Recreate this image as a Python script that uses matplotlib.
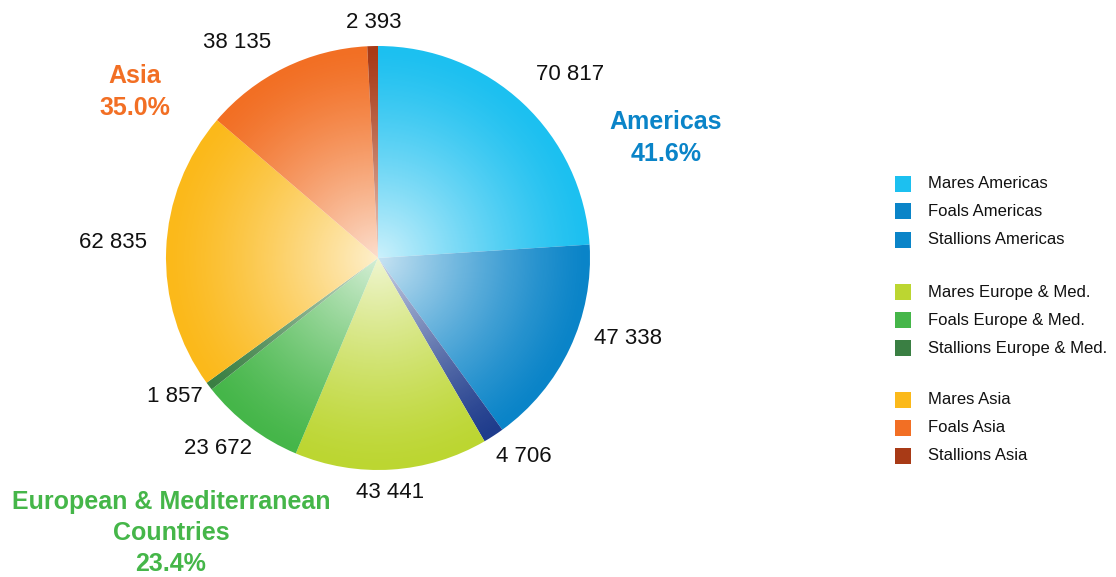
import numpy as np
import matplotlib
matplotlib.use("Agg")
import matplotlib.pyplot as plt
from matplotlib.patches import Circle, Rectangle

plt.rcParams['font.family'] = ['Liberation Sans', 'DejaVu Sans']

# data
series = ["Mares Americas", "Foals Americas", "Stallions Americas",
          "Mares Europe & Med.", "Foals Europe & Med.", "Stallions Europe & Med.",
          "Mares Asia", "Foals Asia", "Stallions Asia"]
values = [70817, 47338, 4706, 43441, 23672, 1857, 62835, 38135, 2393]
pie_colors = ["#1cc0f0", "#0a84c8", "#1f3c8c",
              "#bcd631", "#45b649", "#3a7f43",
              "#fbb91a", "#f26f24", "#a83a16"]
legend_colors = ["#1cc0f0", "#0a84c8", "#0a84c8",
                 "#bcd631", "#45b649", "#3a7f43",
                 "#fbb91a", "#f26f24", "#a83a16"]
value_labels = ["70 817", "47 338", "4 706", "43 441", "23 672",
                "1 857", "62 835", "38 135", "2 393"]
regions = ["Americas", "European & Mediterranean\nCountries", "Asia"]
region_colors = ["#0a84c8", "#45b649", "#f26f24"]

W, H = 1116, 577
fig = plt.figure(figsize=(W / 100, H / 100), dpi=100)
ax = fig.add_axes([0, 0, 1, 1])

cx, cy, R = 378, H - 258, 212
wedges, _ = ax.pie(values, colors=pie_colors, startangle=90, counterclock=False,
                   center=(cx, cy), radius=R, frame=True,
                   wedgeprops=dict(linewidth=0))
ax.set_xlim(0, W)
ax.set_ylim(0, H)
ax.set_aspect("equal")
ax.axis("off")

# light radial gradient towards the centre
n = 400
xs = np.linspace(-1, 1, n)
xx, yy = np.meshgrid(xs, xs)
rr = np.sqrt(xx ** 2 + yy ** 2)
alpha = np.clip(0.78 * (1 - rr) ** 1.3, 0, 1)
img = np.ones((n, n, 4))
img[..., 3] = alpha
im = ax.imshow(img, extent=[cx - R, cx + R, cy - R, cy + R], origin="lower",
               interpolation="bilinear", zorder=3)
clip = Circle((cx, cy), R, transform=ax.transData)
im.set_clip_path(clip)

# value labels (pixel positions from the reference)
label_pos = [(570, 75), (628, 338), (524, 457), (390, 492), (218, 448),
             (175, 397), (113, 243), (237, 43), (374, 23)]
for txt, (px, py) in zip(value_labels, label_pos):
    ax.text(px, H - py, txt, fontsize=16, ha="center", va="center", color="#111111")

# region totals
total = sum(values)
shares = [sum(values[0:3]) / total, sum(values[3:6]) / total, sum(values[6:9]) / total]
region_pos = [(666, 138), (171, 533), (135, 92)]
for name, share, col, (px, py) in zip(regions, shares, region_colors, region_pos):
    ax.text(px, H - py, f"{name}\n{share * 100:.1f}%", fontsize=18, fontweight="bold",
            ha="center", va="center", color=col, linespacing=1.38)

# legend
leg_y = [184, 211, 240, 292, 320, 348, 400, 428, 456]
for name, col, py in zip(series, legend_colors, leg_y):
    ax.add_patch(Rectangle((895, H - py - 8), 16, 16, facecolor=col, edgecolor="none"))
    ax.text(928, H - py, name, fontsize=12, ha="left", va="center", color="#111111")

fig.savefig("out.png", dpi=100)
